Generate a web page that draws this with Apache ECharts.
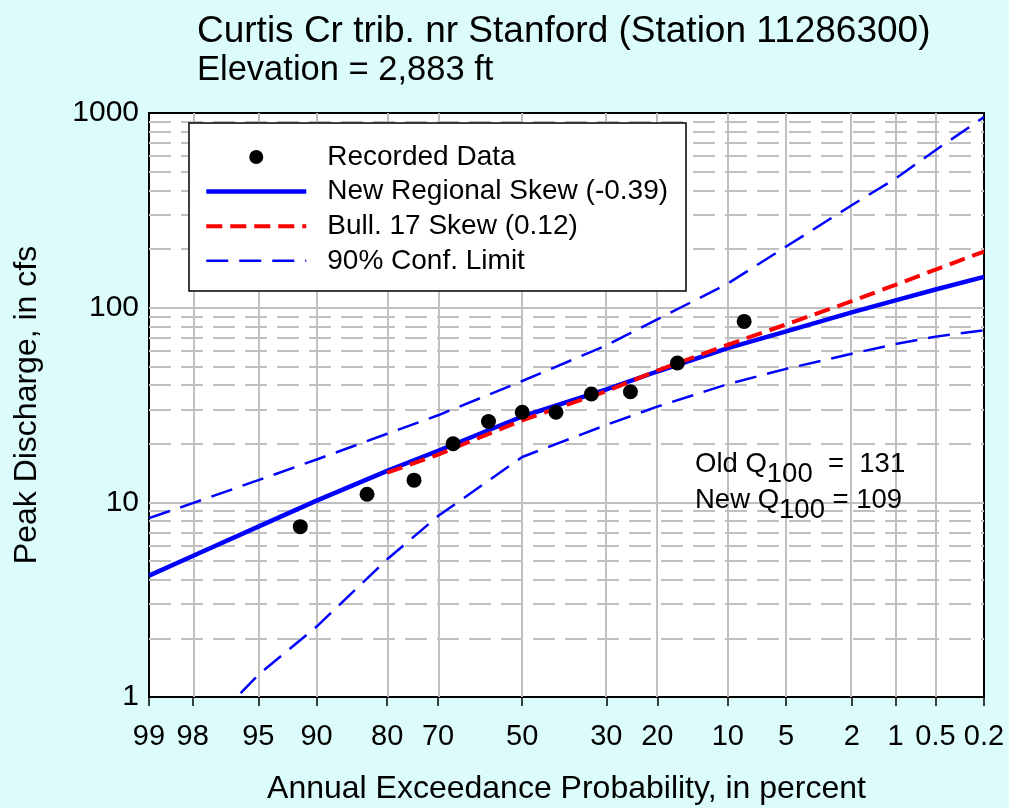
<!DOCTYPE html>
<html>
<head>
<meta charset="utf-8">
<script src="https://cdn.jsdelivr.net/npm/echarts@6/dist/echarts.min.js"></script>
<style>
  html, body { margin: 0; padding: 0; background: #dcfcfc; }
  #chart { width: 1009px; height: 808px; }
</style>
</head>
<body>
<div id="chart"></div>
<script>
// x axis: annual exceedance probability (percent), normal probability scale
var tickProbs = [99, 98, 95, 90, 80, 70, 50, 30, 20, 10, 5, 2, 1, 0.5, 0.2];
var tickLabels = ['99', '98', '95', '90', '80', '70', '50', '30', '20', '10', '5', '2', '1', '0.5', '0.2'];

// recorded peaks (plotting positions i/(n+1))
var recordedProb = [8.33, 16.67, 25, 33.33, 41.67, 50, 58.33, 66.67, 75, 83.33, 91.67];
var recordedQ = [85, 52, 37, 36, 29, 29, 26, 20, 13, 11, 7.5];

// frequency curves, read at the tick probabilities
var curveProbs = [99, 98, 95, 90, 80, 70, 50, 30, 20, 10, 5, 2, 1, 0.5, 0.2];
var newRegional = [4.2, 5.3, 7.5, 10.2, 14.5, 18.4, 27.6, 38, 47, 62, 75.5, 94.5, 109, 124, 144];
var confUpper = [8.3, 9.9, 13, 16.6, 22.5, 28, 42, 64, 87, 133, 206, 336, 460, 644, 953];
var confLower = [0.34, 0.58, 1.3, 2.3, 5.1, 8.5, 17.1, 25, 31, 40.5, 48.5, 58, 65, 71, 76.6];
var bull17Probs = [80, 70, 50, 30, 20, 10, 5, 2, 1, 0.5, 0.2];
var bull17 = [14.2, 17.6, 26.4, 37.2, 47.5, 64.5, 82, 108, 131, 157, 194];

// y gridlines
var decadeGrid = [10, 100];
var minorGrid = [2, 3, 4, 5, 6, 7, 8, 9, 20, 30, 40, 50, 60, 70, 80, 90, 200, 300, 400, 500, 600, 700, 800, 900];

var FONT = '"Liberation Sans", Arial, sans-serif';

// inverse standard normal cdf (Acklam)
function probit(p) {
  var a = [-3.969683028665376e+01, 2.209460984245205e+02, -2.759285104469687e+02, 1.383577518672690e+02, -3.066479806614716e+01, 2.506628277459239e+00];
  var b = [-5.447609879822406e+01, 1.615858368580409e+02, -1.556989798598866e+02, 6.680131188771972e+01, -1.328068155288572e+01];
  var c = [-7.784894002430293e-03, -3.223964580411365e-01, -2.400758277161838e+00, -2.549732539343734e+00, 4.374664141464968e+00, 2.938163982698783e+00];
  var d = [7.784695709041462e-03, 3.224671290700398e-01, 2.445134137142996e+00, 3.754408661907416e+00];
  var pl = 0.02425, q, r;
  if (p < pl) {
    q = Math.sqrt(-2 * Math.log(p));
    return (((((c[0]*q+c[1])*q+c[2])*q+c[3])*q+c[4])*q+c[5]) / ((((d[0]*q+d[1])*q+d[2])*q+d[3])*q+1);
  }
  if (p > 1 - pl) {
    q = Math.sqrt(-2 * Math.log(1 - p));
    return -(((((c[0]*q+c[1])*q+c[2])*q+c[3])*q+c[4])*q+c[5]) / ((((d[0]*q+d[1])*q+d[2])*q+d[3])*q+1);
  }
  q = p - 0.5; r = q * q;
  return (((((a[0]*r+a[1])*r+a[2])*r+a[3])*r+a[4])*r+a[5])*q / (((((b[0]*r+b[1])*r+b[2])*r+b[3])*r+b[4])*r+1);
}
// exceedance percent -> axis position
function px(p) { return probit(1 - p / 100); }

function pairs(probs, vals) {
  return probs.map(function (p, i) { return [px(p), vals[i]]; });
}

var tickZ = tickProbs.map(px);
function tickLabel(v) {
  for (var i = 0; i < tickZ.length; i++) {
    if (Math.abs(tickZ[i] - v) < 1e-6) return tickLabels[i];
  }
  return '';
}

var gridLines = [];
tickZ.slice(1, -1).forEach(function (z) {
  gridLines.push({ xAxis: z, lineStyle: { type: 'solid' } });
});
decadeGrid.forEach(function (v) {
  gridLines.push({ yAxis: v, lineStyle: { type: 'solid' } });
});
minorGrid.forEach(function (v) {
  gridLines.push({ yAxis: v, lineStyle: { type: [22, 10] } });
});

var noDot = { color: 'rgba(0,0,0,0)', borderWidth: 0 };

var myChart = echarts.init(document.getElementById('chart'));
var option = {
  backgroundColor: '#dcfcfc',
  animation: false,
  textStyle: { fontFamily: FONT },
  title: {
    text: '{a|Curtis Cr trib. nr Stanford (Station 11286300)}\n{b|Elevation = 2,883 ft}',
    left: 197,
    top: 13,
    padding: 0,
    textStyle: {
      fontFamily: FONT, fontWeight: 'normal', color: '#000',
      rich: {
        a: { fontFamily: FONT, fontSize: 37, lineHeight: 38, color: '#000' },
        b: { fontFamily: FONT, fontSize: 34.5, lineHeight: 38, color: '#000' }
      }
    }
  },
  grid: {
    left: 149, right: 25, top: 113, bottom: 111,
    show: true, backgroundColor: '#fff', borderColor: '#000', borderWidth: 2,
    outerBoundsMode: 'none'
  },
  legend: {
    orient: 'vertical',
    left: 204,
    top: 142,
    padding: 0,
    itemWidth: 100,
    itemHeight: 14,
    itemGap: 4.6,
    z: 12,
    textStyle: { fontFamily: FONT, fontSize: 28, color: '#000', lineHeight: 30, padding: [0, 0, 0, 16] },
    data: [
      { name: 'Recorded Data', itemStyle: { color: '#000', opacity: 1 } },
      { name: 'New Regional Skew (-0.39)', itemStyle: noDot, lineStyle: { width: 4.5 } },
      { name: 'Bull. 17 Skew (0.12)', itemStyle: noDot, lineStyle: { width: 4 } },
      { name: '90% Conf. Limit', itemStyle: noDot, lineStyle: { width: 2.5 } }
    ]
  },
  graphic: [
    {
      type: 'rect', z: 10,
      shape: { x: 189, y: 123, width: 497, height: 168 },
      style: { fill: '#fff', stroke: '#000', lineWidth: 1.5 }
    },
    {
      type: 'text', z: 10, left: 695, top: 450,
      style: {
        text: '{a|Old Q}{s|100}{a|  =  131}\n{a|New Q}{s|100}{a| = 109}',
        fill: '#000',
        rich: {
          a: { fontFamily: FONT, fontSize: 27.5, lineHeight: 16, padding: [0, 0, 20, 0], fill: '#000' },
          s: { fontFamily: FONT, fontSize: 27.5, lineHeight: 36, fill: '#000' }
        }
      }
    }
  ],
  xAxis: {
    type: 'value',
    min: px(tickProbs[0]),
    max: px(tickProbs[tickProbs.length - 1]),
    name: 'Annual Exceedance Probability, in percent',
    nameLocation: 'middle',
    nameGap: 76,
    nameTextStyle: { fontFamily: FONT, fontSize: 32, color: '#000' },
    axisLine: { show: true, onZero: false, lineStyle: { color: '#000', width: 2 } },
    axisTick: { show: true, inside: false, length: 9, customValues: tickZ, lineStyle: { color: '#000', width: 1.5 } },
    axisLabel: {
      customValues: tickZ,
      formatter: tickLabel,
      margin: 25,
      fontFamily: FONT, fontSize: 29, color: '#000'
    },
    splitLine: { show: false }
  },
  yAxis: {
    type: 'log',
    logBase: 10,
    min: 1,
    max: 1000,
    name: 'Peak Discharge, in cfs',
    nameLocation: 'middle',
    nameGap: 106,
    nameTextStyle: { fontFamily: FONT, fontSize: 32, color: '#000' },
    axisLine: { show: true, lineStyle: { color: '#000', width: 2 } },
    axisTick: { show: true, inside: false, length: 9, lineStyle: { color: '#000', width: 1.5 } },
    axisLabel: {
      margin: 10, fontFamily: FONT, fontSize: 30, color: '#000',
      formatter: function (v) { return String(v); }
    },
    splitLine: { show: false },
    minorTick: { show: false }
  },
  series: [
    {
      name: 'grid',
      type: 'line',
      data: [],
      z: 1,
      silent: true,
      markLine: {
        z: 1,
        silent: true,
        symbol: ['none', 'none'],
        label: { show: false },
        lineStyle: { color: '#c0c0c0', width: 2 },
        emphasis: { disabled: true },
        data: gridLines
      }
    },
    {
      name: '90% Conf. Limit',
      type: 'line',
      data: pairs(curveProbs, confUpper),
      symbol: 'none',
      z: 6,
      color: '#0000ff',
      lineStyle: { color: '#0000ff', width: 2.5, type: [22, 11] }
    },
    {
      name: '90% Conf. Limit',
      type: 'line',
      data: pairs(curveProbs, confLower),
      symbol: 'none',
      z: 6,
      color: '#0000ff',
      lineStyle: { color: '#0000ff', width: 2.5, type: [22, 11] }
    },
    {
      name: 'New Regional Skew (-0.39)',
      type: 'line',
      data: pairs(curveProbs, newRegional),
      symbol: 'none',
      z: 7,
      color: '#0000ff',
      lineStyle: { color: '#0000ff', width: 4.5 }
    },
    {
      name: 'Bull. 17 Skew (0.12)',
      type: 'line',
      data: pairs(bull17Probs, bull17),
      symbol: 'none',
      z: 8,
      color: '#ff0000',
      lineStyle: { color: '#ff0000', width: 4, type: [16, 8] }
    },
    {
      name: 'Recorded Data',
      type: 'scatter',
      data: pairs(recordedProb, recordedQ),
      symbol: 'circle',
      symbolSize: 15,
      z: 9,
      color: '#000',
      itemStyle: { color: '#000', opacity: 1 }
    }
  ]
};
myChart.setOption(option);
</script>
</body>
</html>
